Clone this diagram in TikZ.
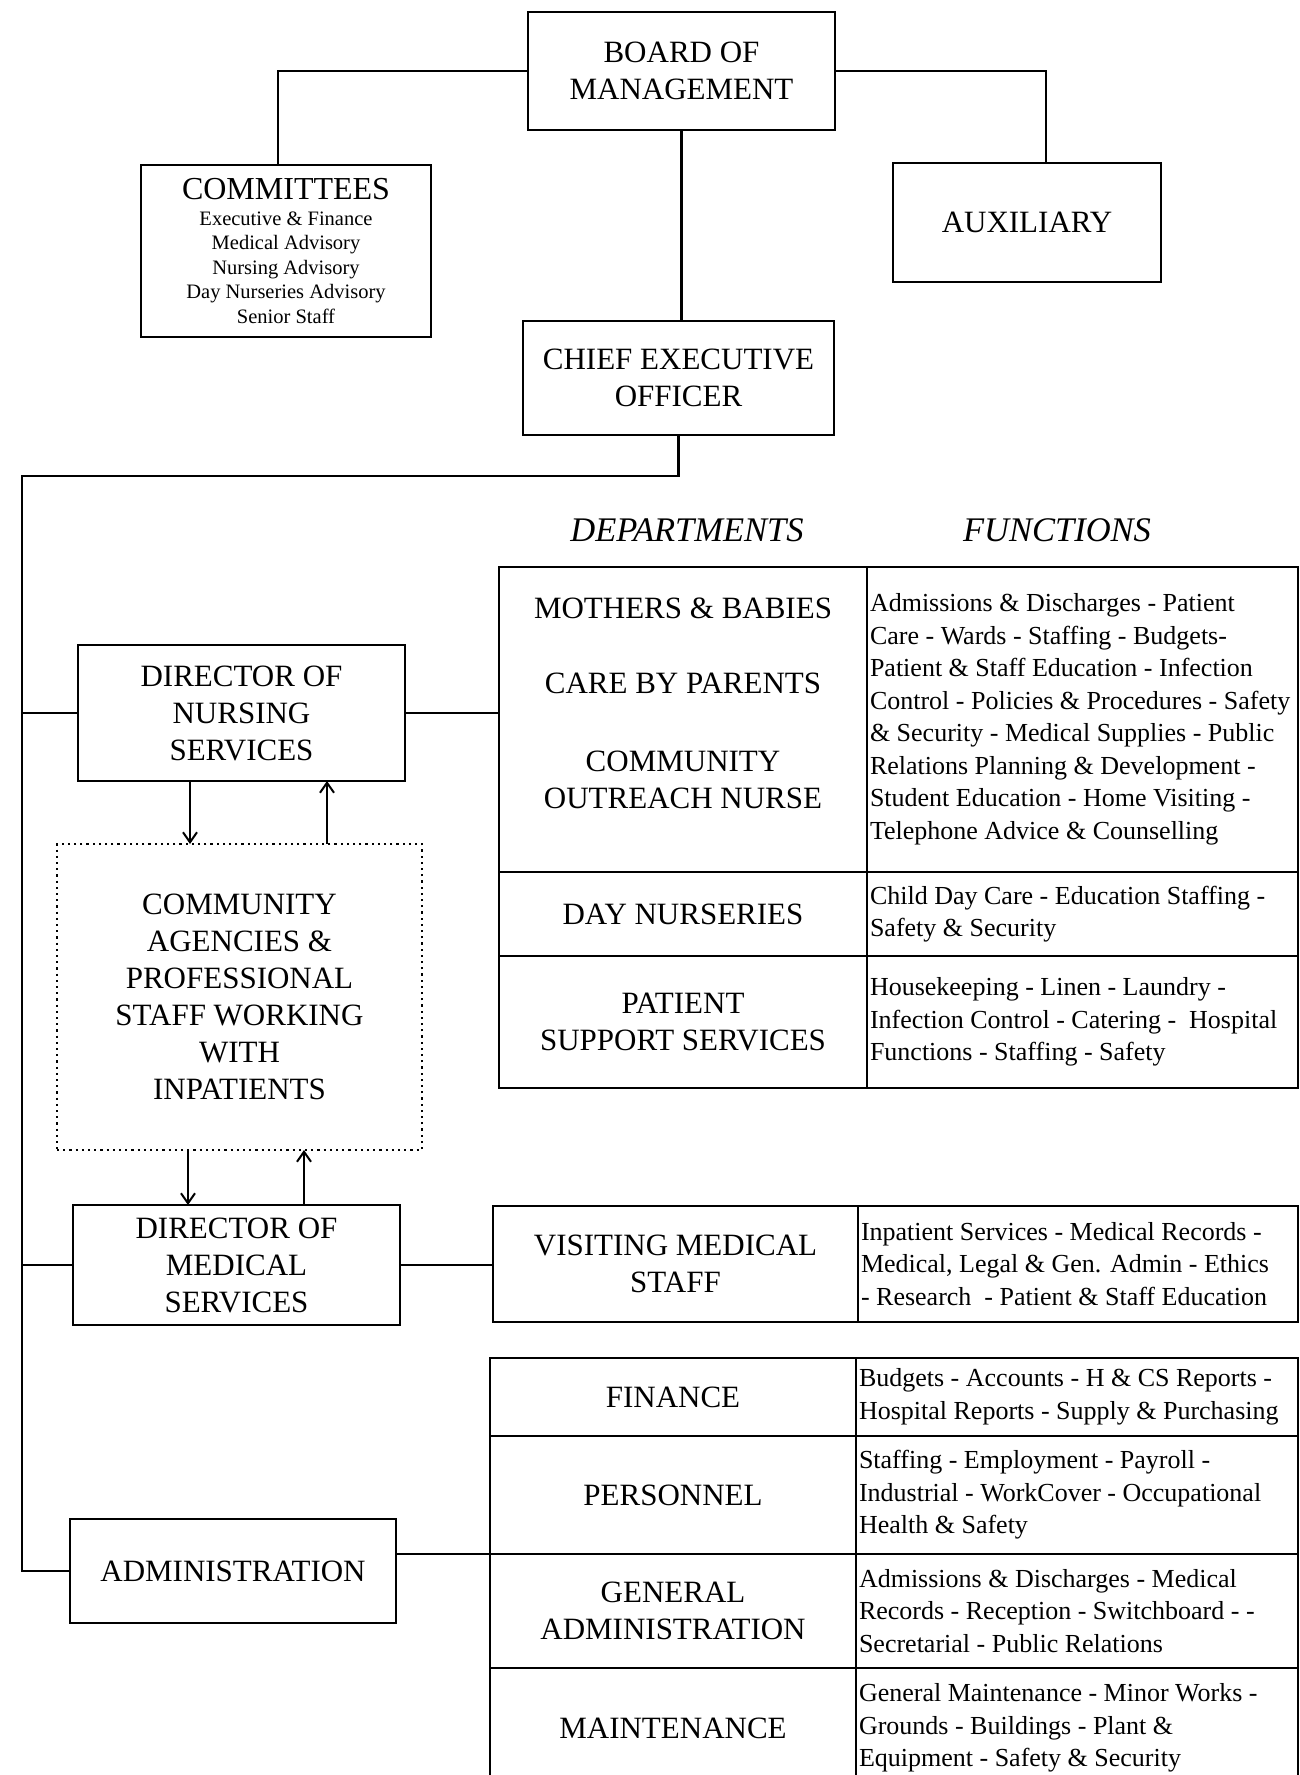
\documentclass[tikz,border=0pt]{standalone}
\usepackage{fontspec}
\setmainfont{Liberation Serif}
\usetikzlibrary{arrows.meta, positioning}
\newcommand{\boxfont}{\fontsize{31}{37}\selectfont}
\newcommand{\funcfont}{\fontsize{26}{32.5}\selectfont}
\newcommand{\subfont}{\fontsize{20.5}{24.5}\selectfont}
\newcommand{\headfont}{\fontsize{34.5}{40}\selectfont\itshape}
\tikzset{
	unit/.style={rectangle, draw=black, line width=2.5pt, inner sep=0pt, outer sep=0pt, text centered, font=\boxfont},
	agency/.style={unit, line width=2.2pt, dash pattern=on 2.2pt off 4pt},
	dept/.style={rectangle, draw=black, line width=2.5pt, inner sep=0pt, outer sep=0pt, anchor=north west, text centered, font=\boxfont},
	func/.style={rectangle, draw=black, line width=2.5pt, inner sep=0pt, outer sep=0pt, anchor=north west, font=\funcfont},
	link/.style={line width=2.5pt},
	arrow/.style={line width=2pt, -{Straight Barb[length=10pt, width=14pt]}}
}

\begin{document}
\begin{tikzpicture}[x=1pt, y=-1pt]
	\useasboundingbox (0,0) rectangle (1300,1775);
	
	% Nodes
	\node (board) [unit, minimum width=307pt, minimum height=118pt] at (681.5,71) {\parbox{290pt}{\centering BOARD OF\\ MANAGEMENT}};
	\node (committees) [unit, minimum width=290pt, minimum height=172pt] at (286,251) {\parbox{280pt}{\centering {\fontsize{32}{37}\selectfont COMMITTEES\par}\vspace{1.5pt}\subfont Executive \& Finance\\ Medical Advisory\\ Nursing Advisory\\ Day Nurseries Advisory\\ Senior Staff}};
	\node (auxiliary) [unit, minimum width=268pt, minimum height=119pt] at (1027,222.5) {AUXILIARY};
	\node (ceo) [unit, minimum width=311pt, minimum height=114pt] at (678.5,378) {\parbox{300pt}{\centering CHIEF EXECUTIVE\\ OFFICER}};
	\node (dns) [unit, minimum width=327pt, minimum height=136pt] at (241.5,713) {\parbox{315pt}{\centering DIRECTOR OF\\ NURSING\\ SERVICES}};
	\node (agencies) [agency, minimum width=365pt, minimum height=306pt] at (239.5,997) {\parbox{350pt}{\centering COMMUNITY\\ AGENCIES \&\\ PROFESSIONAL\\ STAFF WORKING\\ WITH\\ INPATIENTS}};
	\node (dms) [unit, minimum width=327pt, minimum height=120pt] at (236.5,1265) {\parbox{315pt}{\centering DIRECTOR OF\\ MEDICAL\\ SERVICES}};
	\node (admin) [unit, minimum width=326pt, minimum height=104pt] at (233,1571) {ADMINISTRATION};
	
	% Headings
	\node (depthead) [font=\headfont] at (687,530) {DEPARTMENTS};
	\node (funchead) [font=\headfont] at (1057,530) {FUNCTIONS};
	
	% Nursing departments
	\node (mothers) [dept, minimum width=368pt, minimum height=305pt] at (499,567) {};
	\node (motherstext) [font=\boxfont] at ([yshift=16pt]mothers.center) {\parbox{360pt}{\centering MOTHERS \& BABIES\\[38pt] CARE BY PARENTS\\[41pt] COMMUNITY\\ OUTREACH NURSE}};
	\node (mothersf) [func, minimum width=431pt, minimum height=305pt, right=0pt of mothers] {\parbox{425pt}{\raggedright Admissions \& Discharges - Patient\\ Care - Wards - Staffing - Budgets-\\ Patient \& Staff Education - Infection\\ Control - Policies \& Procedures - Safety\\ \& Security - Medical Supplies - Public\\ Relations Planning \& Development -\\ Student Education - Home Visiting -\\ Telephone Advice \& Counselling}};
	\node (daynurs) [dept, minimum width=368pt, minimum height=84pt, below=0pt of mothers] {DAY NURSERIES};
	\node (daynursf) [func, minimum width=431pt, minimum height=84pt, right=0pt of daynurs] {\parbox{425pt}{\raggedright Child Day Care - Education Staffing -\\ Safety \& Security}};
	\node (support) [dept, minimum width=368pt, minimum height=132pt, below=0pt of daynurs] {\parbox{360pt}{\centering PATIENT\\ SUPPORT SERVICES}};
	\node (supportf) [func, minimum width=431pt, minimum height=132pt, right=0pt of support] {\parbox{425pt}{\raggedright Housekeeping - Linen - Laundry -\\ Infection Control - Catering - \ Hospital\\ Functions - Staffing - Safety}};
	
	% Medical departments
	\node (visiting) [dept, minimum width=365pt, minimum height=116pt] at (493,1206) {\parbox{355pt}{\centering VISITING MEDICAL\\ STAFF}};
	\node (visitingf) [func, minimum width=440pt, minimum height=116pt, right=0pt of visiting] {\parbox{434pt}{\raggedright Inpatient Services - Medical Records -\\ Medical, Legal \& Gen. Admin - Ethics\\ - Research \ - Patient \& Staff Education}};
	
	% Administration departments
	\node (finance) [dept, minimum width=366pt, minimum height=78pt] at (490,1358) {FINANCE};
	\node (financef) [func, minimum width=442pt, minimum height=78pt, right=0pt of finance] {\parbox{436pt}{\raggedright Budgets - Accounts - H \& CS Reports -\\ Hospital Reports - Supply \& Purchasing}};
	\node (personnel) [dept, minimum width=366pt, minimum height=118pt, below=0pt of finance] {PERSONNEL};
	\node (personnelf) [func, minimum width=442pt, minimum height=118pt, right=0pt of personnel] {\parbox{436pt}{\raggedright Staffing - Employment - Payroll -\\ Industrial - WorkCover - Occupational\\ Health \& Safety}};
	\node (genadmin) [dept, minimum width=366pt, minimum height=114pt, below=0pt of personnel] {\parbox{356pt}{\centering GENERAL\\ ADMINISTRATION}};
	\node (genadminf) [func, minimum width=442pt, minimum height=114pt, right=0pt of genadmin] {\parbox{436pt}{\raggedright Admissions \& Discharges - Medical\\ Records - Reception - Switchboard - -\\ Secretarial - Public Relations}};
	\node (maint) [dept, minimum width=366pt, minimum height=120pt, below=0pt of genadmin] {MAINTENANCE};
	\node (maintf) [func, minimum width=442pt, minimum height=120pt, right=0pt of maint] {\parbox{436pt}{\raggedright General Maintenance - Minor Works -\\ Grounds - Buildings - Plant \&\\ Equipment - Safety \& Security}};
	
	% Lines
	\coordinate (trunk) at (22,476);
	\draw [link] (board.west) -| ([xshift=-8pt]committees.north);
	\draw [link] (board.east) -| ([xshift=19pt]auxiliary.north);
	\draw [link] (board.south) -- (board.south |- ceo.north);
	\draw [link] (ceo.south) |- (trunk) |- (admin.west);
	\draw [link] (dns.west) -- (dns.west -| trunk);
	\draw [link] (dms.west) -- (dms.west -| trunk);
	\draw [link] (dns.east) -- (dns.east -| mothers.west);
	\draw [link] (dms.east) -- (dms.east -| visiting.west);
	\draw [link] (admin.east |- genadmin.north west) -- (genadmin.north west);
	
	% Arrows
	\draw [arrow] ([xshift=-51.5pt]dns.south) -- ([xshift=-51.5pt]dns.south |- agencies.north);
	\draw [arrow] ([xshift=85.5pt]dns.south |- agencies.north) -- ([xshift=85.5pt]dns.south);
	\draw [arrow] ([xshift=-48.5pt]dms.north |- agencies.south) -- ([xshift=-48.5pt]dms.north);
	\draw [arrow] ([xshift=67.5pt]dms.north) -- ([xshift=67.5pt]dms.north |- agencies.south);
	
\end{tikzpicture}
\end{document}
